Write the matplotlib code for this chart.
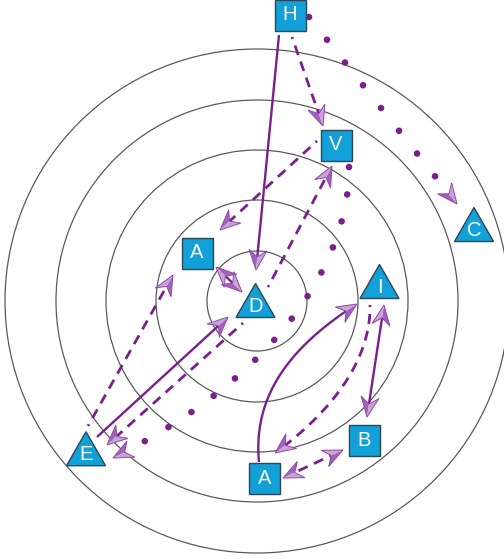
import numpy as np
import matplotlib
matplotlib.use('Agg')
import matplotlib.pyplot as plt
from matplotlib.patches import Circle, Rectangle, Polygon

plt.rcParams['lines.scale_dashes'] = False

# ---- 数据（像素坐标，y 向下） ----
ring_cx, ring_cy = 257, 301
ring_radii = [50, 101, 151, 201, 252]

node_labels = ['H', 'V', 'A', 'C', 'D', 'I', 'E', 'B', 'A']
node_shapes = ['s', 's', 's', '^', '^', '^', '^', 's', 's']
node_x = [290, 336, 197, 474, 255.5, 379.5, 86, 364.5, 264.5]
node_y = [15, 145, 253, 224.5, 300.5, 281.5, 448.7, 440.7, 478.5]

# 连线：起点、终点、线型、箭头、曲线控制点（None 为直线，否则为三次贝塞尔的两个控制点）
edge_x0 = [279, 292, 309, 317, 268, 88, 97, 243, 216, 384, 343, 349, 370, 259]
edge_y0 = [35, 37, 17, 141, 287, 426, 437, 323, 267, 305, 450, 167, 305, 462]
edge_x1 = [256, 323, 457, 220, 332, 173, 228, 107, 242, 367, 283, 113, 275, 357]
edge_y1 = [270, 126, 204, 230, 166, 275, 317, 445, 292, 417, 478, 458, 453, 304]
edge_style = ['solid', 'dashed', 'dotted', 'dashed', 'dashed', 'dashed', 'solid',
              'dashed', 'solid', 'solid', 'dashed', 'dotted', 'dashed', 'solid']
edge_heads = ['end', 'end', 'end', 'end', 'end', 'end', 'end',
              'end', 'both', 'both', 'both', 'end', 'end', 'end']
edge_ctrl = [None] * 11 + [((350, 250), (290, 370)),
                           ((371, 355), (338, 407)),
                           ((253, 399), (286, 349))]

line_color = '#7a1f8e'
node_color = '#12a0d8'

fig = plt.figure(figsize=(5.04, 5.59), dpi=100)
ax = fig.add_axes([0, 0, 1, 1])
ax.set_xlim(0, 504)
ax.set_ylim(559, 0)
ax.axis('off')

for r in ring_radii:
    ax.add_patch(Circle((ring_cx, ring_cy), r, fill=False, ec='#5a5a5a', lw=0.9, zorder=1))

px = 0.72  # 像素 -> 点


def arrow_head(tip, u):
    u = np.asarray(u, float)
    u = u / np.linalg.norm(u)
    n = np.array([-u[1], u[0]])
    tip = np.asarray(tip, float)
    L, W, N = 20, 9, 13
    w1 = tip - L * u + W * n
    w2 = tip - L * u - W * n
    notch = tip - N * u
    ax.add_patch(Polygon([tip, w1, notch], closed=True, fc='#a263bb', ec='none', zorder=5))
    ax.add_patch(Polygon([tip, notch, w2], closed=True, fc='#c9a3d8', ec='none', zorder=5))
    ax.add_patch(Polygon([tip, w1, notch, w2], closed=True, fc='none', ec='#9148a8',
                         lw=0.7, zorder=6))


for i in range(len(edge_x0)):
    p0 = np.array([edge_x0[i], edge_y0[i]], float)
    p3 = np.array([edge_x1[i], edge_y1[i]], float)
    if edge_ctrl[i] is None:
        c1 = p0 + (p3 - p0) / 3
        c2 = p0 + 2 * (p3 - p0) / 3
    else:
        c1 = np.array(edge_ctrl[i][0], float)
        c2 = np.array(edge_ctrl[i][1], float)
    t = np.linspace(0, 1, 300)[:, None]
    pts = ((1 - t) ** 3 * p0 + 3 * t * (1 - t) ** 2 * c1
           + 3 * t ** 2 * (1 - t) * c2 + t ** 3 * p3)
    d_end = p3 - c2
    d_start = p0 - c1
    # 截掉箭头部分
    trim = 13 if edge_style[i] != 'dotted' else 15
    keep = np.hypot(*(pts - p3).T) >= trim
    if edge_heads[i] == 'both':
        keep &= np.hypot(*(pts - p0).T) >= trim
    seg = pts[keep]
    if edge_style[i] == 'solid':
        ax.plot(seg[:, 0], seg[:, 1], color=line_color, lw=1.7, solid_capstyle='butt', zorder=3)
    elif edge_style[i] == 'dashed':
        ax.plot(seg[:, 0], seg[:, 1], color=line_color, lw=2.0,
                linestyle=(8 * px, (10 * px, 7 * px)), dash_capstyle='butt', zorder=3)
    else:
        gap = 29 if edge_ctrl[i] is None else 27.5
        ax.plot(seg[:, 0], seg[:, 1], color=line_color, lw=4.8,
                linestyle=(0, (0.01, gap * px)), dash_capstyle='round', zorder=3)
    arrow_head(p3, d_end)
    if edge_heads[i] == 'both':
        arrow_head(p0, d_start)

for lab, shp, x, y in zip(node_labels, node_shapes, node_x, node_y):
    if shp == 's':
        s = 31
        ax.add_patch(Rectangle((x - s / 2, y - s / 2), s, s, fc=node_color, ec='#2b4656',
                               lw=1.0, zorder=7))
        ty = y
    else:
        w, h = 39, 34
        ax.add_patch(Polygon([(x, y - h / 2), (x - w / 2, y + h / 2), (x + w / 2, y + h / 2)],
                             closed=True, fc=node_color, ec='#2b4656', lw=1.0, zorder=7))
        ty = y + 6
    ax.text(x, ty, lab, color='white', fontsize=14.5, family='Liberation Sans',
            ha='center', va='center', zorder=8)

fig.savefig('out.png', dpi=100)
